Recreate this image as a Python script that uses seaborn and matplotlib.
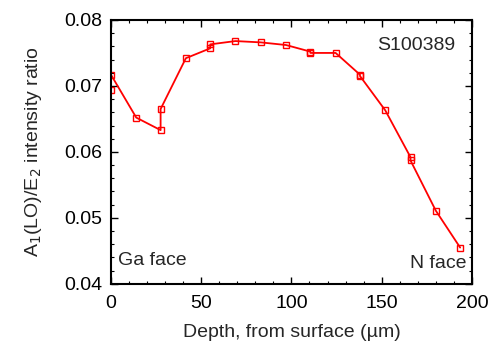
import matplotlib
matplotlib.use("Agg")
import matplotlib.pyplot as plt
from matplotlib.ticker import MultipleLocator
import seaborn as sns
import pandas as pd

# Depth profile of the A1(LO)/E2 Raman intensity ratio
depth_um = [0, 0, 14, 27.5, 27.5, 41.5, 55, 55, 69, 83, 97,
            110.5, 110.5, 124.5, 138, 138, 152, 166, 166, 180, 193.5]
ratio = [0.0694, 0.0717, 0.0652, 0.0633, 0.0665, 0.0742, 0.0757, 0.0763,
         0.0768, 0.0766, 0.0762, 0.0752, 0.0750, 0.0750, 0.0717, 0.0715,
         0.0663, 0.0592, 0.0587, 0.0511, 0.0455]

x_ticks = [0, 50, 100, 150, 200]
y_ticks = [0.04, 0.05, 0.06, 0.07, 0.08]

sns.set_style("ticks")
plt.rcParams["font.family"] = ["Liberation Sans", "DejaVu Sans"]

df = pd.DataFrame({"depth": depth_um, "ratio": ratio})

fig = plt.figure(figsize=(4.9, 3.5), dpi=100)
ax = fig.add_axes([0.2265, 0.189, 0.7365, 0.754])

sns.lineplot(data=df, x="depth", y="ratio", sort=False, estimator=None,
             color="#ff0000", linewidth=1.3, marker="s", markersize=5,
             markerfacecolor="none", markeredgecolor="#ff0000",
             markeredgewidth=1.0, ax=ax)

ax.set_xlim(0, 200)
ax.set_ylim(0.04, 0.08)
ax.set_xticks(x_ticks)
ax.set_yticks(y_ticks)
ax.set_xticklabels([str(t) for t in x_ticks])
ax.set_yticklabels([f"{t:.2f}" for t in y_ticks])
ax.xaxis.set_minor_locator(MultipleLocator(10))
ax.yaxis.set_minor_locator(MultipleLocator(0.002))

for s in ax.spines.values():
    s.set_visible(True)
    s.set_linewidth(1.5)
    s.set_color("black")

ax.tick_params(which="both", direction="in", top=True, right=True,
               labelsize=14, colors="black")
ax.tick_params(axis="x", which="both", pad=8)
ax.tick_params(axis="y", which="both", pad=6)
ax.tick_params(which="major", length=5, width=1.0)
ax.tick_params(which="minor", length=2.5, width=0.8)

ax.set_xlabel("Depth, from surface (\u00b5m)", fontsize=14, labelpad=9)
ax.set_ylabel("A$_1$(LO)/E$_2$ intensity ratio", fontsize=14, labelpad=15)

ax.text(0.955, 0.905, "S100389", transform=ax.transAxes, fontsize=14,
        ha="right", va="center")
ax.text(0.02, 0.09, "Ga face", transform=ax.transAxes, fontsize=14,
        ha="left", va="center")
ax.text(0.985, 0.078, "N face", transform=ax.transAxes, fontsize=14,
        ha="right", va="center")

fig.savefig("out.png", dpi=100)
